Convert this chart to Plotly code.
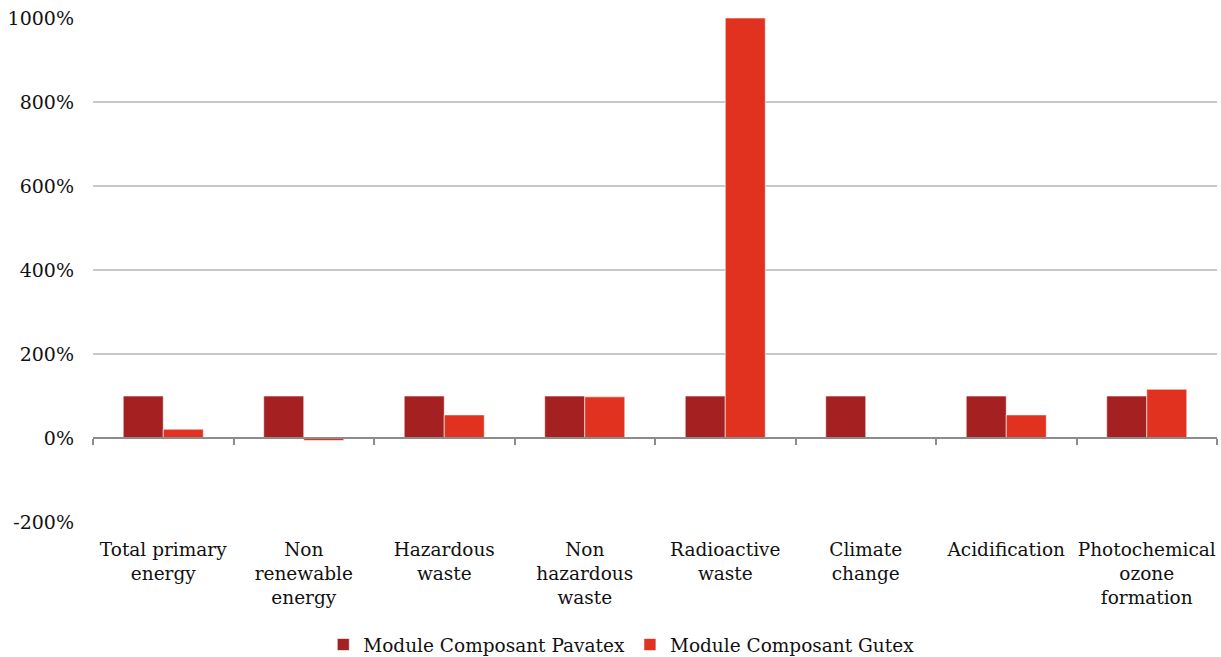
import plotly.graph_objects as go

categories = ["Total primary<br>energy", "Non<br>renewable<br>energy", "Hazardous<br>waste",
              "Non<br>hazardous<br>waste", "Radioactive<br>waste", "Climate<br>change",
              "Acidification", "Photochemical<br>ozone<br>formation"]
pavatex = [100, 100, 100, 100, 100, 100, 100, 100]
gutex = [21, -6, 55, 98, 1000, 1, 55, 116]
y_ticks = [-200, 0, 200, 400, 600, 800, 1000]
y_labels = ["-200%", "0%", "200%", "400%", "600%", "800%", "1000%"]

FONT = "DejaVu Serif"
TXT = "#111111"

fig = go.Figure()
fig.add_trace(go.Bar(x=categories, y=pavatex, name="Module Composant Pavatex",
                     marker=dict(color="#A52021", line=dict(color="rgba(255,255,255,0.6)", width=1))))
fig.add_trace(go.Bar(x=categories, y=gutex, name="Module Composant Gutex",
                     marker=dict(color="#E0321F", line=dict(color="rgba(255,255,255,0.6)", width=1))))
# invisible trace to carry the axis-at-zero
fig.add_trace(go.Bar(x=categories, y=[0]*len(categories), xaxis="x2", showlegend=False,
                     hoverinfo="skip", marker=dict(color="rgba(0,0,0,0)")))

fig.update_layout(
    width=1221, height=657,
    paper_bgcolor="white", plot_bgcolor="white",
    margin=dict(l=93, r=4, t=18, b=135, autoexpand=False),
    barmode="group", bargap=0.43, bargroupgap=0,
    font=dict(family=FONT, size=19, color=TXT),
    xaxis=dict(showline=False, ticks="", showgrid=False, automargin=False,
               ticklabelstandoff=14,
               tickfont=dict(family=FONT, size=18.5, color=TXT)),
    xaxis2=dict(overlaying="x", matches="x", anchor="free", position=200/1200,
                showline=True, linecolor="#8c8c8c", linewidth=2,
                ticks="outside", tickson="boundaries", ticklen=6, tickwidth=2, tickcolor="#8c8c8c",
                showticklabels=False, showgrid=False, automargin=False),
    yaxis=dict(range=[-200, 1000], tickvals=y_ticks, ticktext=y_labels,
               showgrid=True, gridcolor="#c8c8c8", gridwidth=1.5,
               zeroline=False, showline=False, ticks="", ticklen=0, automargin=False,
               ticklabelstandoff=18,
               tickfont=dict(family=FONT, size=19, color=TXT)),
    legend=dict(orientation="h", x=0.47, xanchor="center", y=-0.244, yanchor="middle",
                font=dict(family=FONT, size=18.5, color=TXT), itemwidth=30,
                traceorder="normal"),
)

fig.write_html("out.html", config={"displayModeBar": False},
               post_script="document.body.style.margin='0';document.body.style.overflow='hidden';")
